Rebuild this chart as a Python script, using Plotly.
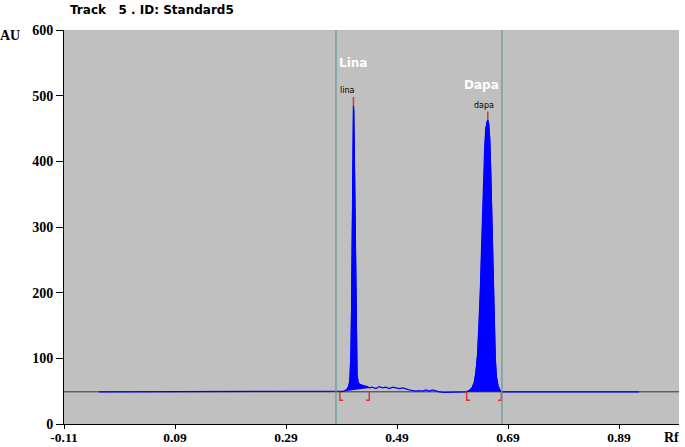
import plotly.graph_objects as go

# Densitogram of track 5 (Standard5)
baseline_au = 49
baseline_rf = [-0.047, 0.926]

lina_rf = [0.388, 0.395, 0.400, 0.403, 0.405, 0.406, 0.407, 0.408, 0.409, 0.4095,
           0.410, 0.411, 0.4115, 0.412, 0.413, 0.414, 0.415, 0.416, 0.417, 0.418,
           0.420, 0.424, 0.430, 0.436, 0.440]
lina_au = [49, 50, 53, 58, 66, 80, 110, 170, 250, 290,
           360, 440, 485, 478, 420, 330, 230, 150, 100, 75,
           63, 60, 58, 57, 55]

between_rf = [0.445, 0.452, 0.458, 0.464, 0.470, 0.476, 0.482, 0.488, 0.494, 0.500,
              0.506, 0.512, 0.518, 0.524, 0.530, 0.536, 0.542, 0.548, 0.554, 0.560,
              0.566, 0.575, 0.590, 0.603, 0.610]
between_au = [56, 54, 57, 55, 56, 54, 56, 55, 54, 55,
              53, 52, 51, 50, 51, 50, 52, 50, 52, 50,
              49, 48, 48, 48, 49]

dapa_rf = [0.6155, 0.620, 0.625, 0.629, 0.632, 0.635, 0.638, 0.640, 0.642, 0.644,
           0.646, 0.648, 0.650, 0.652, 0.6535, 0.655, 0.657, 0.659, 0.661, 0.663,
           0.665, 0.667, 0.669, 0.672, 0.675, 0.678]
dapa_au = [49, 51, 55, 63, 78, 105, 150, 200, 260, 320,
           380, 425, 450, 460, 463, 458, 435, 380, 300, 220,
           150, 100, 72, 58, 52, 49]

# peak integration windows (red brackets) and lane markers
bracket_ranges = [(0.387, 0.440), (0.6155, 0.678)]
peak_max_rf = [0.4115, 0.6535]
peak_max_au = [485, 463]
peak_names = ["lina", "dapa"]
lane_lines = [0.380, 0.679]

xticks = [-0.11, 0.09, 0.29, 0.49, 0.69, 0.89]
yticks = [0, 100, 200, 300, 400, 500, 600]

blue = "#0000FF"
red = "#E8302A"

fig = go.Figure()

# full scan as one blue line
curve_rf = [baseline_rf[0]] + lina_rf + between_rf + dapa_rf + [baseline_rf[1]]
curve_au = [baseline_au] + lina_au + between_au + dapa_au + [baseline_au]

# filled peaks
for prf, pau in [(lina_rf, lina_au), (dapa_rf, dapa_au)]:
    fig.add_trace(go.Scatter(x=prf, y=pau, mode="lines", fill="toself",
                             fillcolor=blue, line=dict(color=blue, width=1),
                             hoverinfo="skip"))

fig.add_trace(go.Scatter(x=curve_rf, y=curve_au, mode="lines",
                         line=dict(color=blue, width=1.2)))

# red brackets at the integration limits
for x0, x1 in bracket_ranges:
    foot = 0.006
    fig.add_trace(go.Scatter(
        x=[x0 + foot, x0, x0, None, x1 - foot, x1, x1],
        y=[36, 36, baseline_au, None, 36, 36, baseline_au],
        mode="lines", line=dict(color=red, width=1.5), hoverinfo="skip"))

# red tick on top of each peak
for x, y in zip(peak_max_rf, peak_max_au):
    fig.add_trace(go.Scatter(x=[x, x], y=[y, y + 13], mode="lines",
                             line=dict(color=red, width=1.5), hoverinfo="skip"))

shapes = [dict(type="line", xref="paper", x0=0, x1=1, y0=baseline_au, y1=baseline_au,
               line=dict(color="#333333", width=1), layer="below")]
for x in lane_lines:
    shapes.append(dict(type="line", x0=x, x1=x, y0=0, y1=600,
                       line=dict(color="#5E9A98", width=1.2)))

annotations = [
    dict(text="Track   5 . ID: Standard5", xref="paper", yref="paper", x=0.0065, y=1.051,
         xanchor="left", yanchor="middle", showarrow=False,
         font=dict(family="DejaVu Sans", size=12, color="black", weight="bold")),
    dict(text="AU", xref="paper", yref="paper", x=-0.088, y=0.985,
         xanchor="center", yanchor="middle", showarrow=False,
         font=dict(family="Liberation Serif", size=14, color="black", weight="bold")),
    dict(text="Rf", xref="paper", yref="paper", x=0.988, y=-0.033,
         xanchor="center", yanchor="middle", showarrow=False,
         font=dict(family="Liberation Serif", size=14, color="black", weight="bold")),
    dict(text="Lina", x=0.411, y=549, showarrow=False,
         font=dict(family="DejaVu Sans", size=12, color="white", weight="bold")),
    dict(text="Dapa", x=0.643, y=517, showarrow=False,
         font=dict(family="DejaVu Sans", size=12, color="white", weight="bold")),
    dict(text=peak_names[0], x=0.400, y=508, showarrow=False,
         font=dict(family="DejaVu Sans", size=8, color="black")),
    dict(text=peak_names[1], x=0.646, y=485, showarrow=False,
         font=dict(family="DejaVu Sans", size=8, color="black")),
]

fig.update_layout(
    width=685, height=447,
    margin=dict(l=64, r=6, t=30, b=23, autoexpand=False),
    paper_bgcolor="white", plot_bgcolor="#C0C0C0",
    showlegend=False,
    shapes=shapes, annotations=annotations,
    font=dict(family="Liberation Serif", size=12, color="black"),
)
fig.update_xaxes(range=[-0.11, 0.998], tickvals=xticks, ticktext=[f"{v:.2f}" for v in xticks],
                 showgrid=False, zeroline=False, showline=True, linecolor="black",
                 ticks="outside", ticklen=4, tickcolor="black", automargin=False,
                 ticklabelstandoff=-3,
                 tickfont=dict(family="Liberation Serif", size=13.5, weight="bold"))
fig.update_yaxes(range=[0, 600], tickvals=yticks,
                 showgrid=False, zeroline=False, showline=True, linecolor="black",
                 ticks="outside", ticklen=7, tickcolor="black", automargin=False,
                 tickfont=dict(family="Liberation Serif", size=14, weight="bold"))

# drop the page's default body margin so the figure sits at the window's corner
fig.write_html("out.html", config={"displayModeBar": False},
               post_script="document.body.style.margin='0';document.body.style.overflow='hidden';")
